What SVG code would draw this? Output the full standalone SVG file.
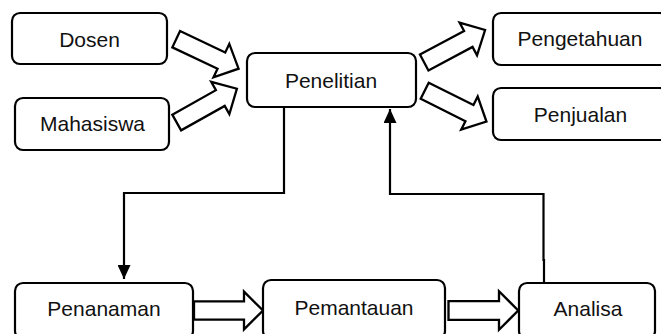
<svg xmlns="http://www.w3.org/2000/svg" xmlns:xlink="http://www.w3.org/1999/xlink" width="661" height="334" viewBox="0 0 661 334">
  <style>
    .box { fill: #ffffff; stroke: #000000; stroke-width: 2.2; }
    .lbl { font-family: "Liberation Sans", Arial, sans-serif; font-size: 21px; fill: #111111; text-anchor: middle; }
    .blk { fill: #ffffff; stroke: #000000; stroke-width: 2.3; stroke-linejoin: miter; }
    .line { fill: none; stroke: #000000; stroke-width: 2.2; }
  </style>
  <defs>
    <!-- hollow block arrow, tail at origin, tip at x=69 -->
    <path id="blockArrow" d="M0,-9 L50,-9 L50,-18.5 L69,0 L50,18.5 L50,9 L0,9 Z"/>
    <marker id="tri" viewBox="0 0 14 13" refX="14" refY="6.5" markerWidth="14" markerHeight="13" markerUnits="userSpaceOnUse" orient="auto">
      <path d="M0,0 L14,6.5 L0,13 Z" fill="#000000"/>
    </marker>
  </defs>

  <rect width="661" height="334" fill="#ffffff"/>

  <g id="connectors">
    <use xlink:href="#blockArrow" class="blk" transform="translate(176.2,39.2) rotate(25.3)"/>
    <use xlink:href="#blockArrow" class="blk" transform="translate(176.7,122.5) rotate(-29.3)"/>
    <use xlink:href="#blockArrow" class="blk" transform="translate(424.2,62.5) rotate(-28.1)"/>
    <use xlink:href="#blockArrow" class="blk" transform="translate(424.7,90.8) rotate(26.5)"/>
    <use xlink:href="#blockArrow" class="blk" transform="translate(194,310.5) scale(1,1.02)"/>
    <use xlink:href="#blockArrow" class="blk" transform="translate(448.5,310.5) scale(1.01,1.04)"/>
    <polyline class="line" points="284,107 284,193 124,193 124,279" marker-end="url(#tri)"/>
    <polyline class="line" points="544,283 544,260 543.5,260 543.5,194 390,194 390,109" marker-end="url(#tri)"/>
  </g>

  <g id="dosen">
    <rect class="box" x="12" y="13" width="155" height="51" rx="8"/>
    <text class="lbl" x="89.5" y="47">Dosen</text>
  </g>
  <g id="mahasiswa">
    <rect class="box" x="15" y="98" width="154" height="52" rx="8"/>
    <text class="lbl" x="92.5" y="131">Mahasiswa</text>
  </g>
  <g id="penelitian">
    <rect class="box" x="247" y="53" width="169" height="54" rx="8"/>
    <text class="lbl" x="331" y="87.5">Penelitian</text>
  </g>
  <g id="pengetahuan">
    <rect class="box" x="493" y="13" width="175" height="52" rx="8"/>
    <text class="lbl" x="580" y="46">Pengetahuan</text>
  </g>
  <g id="penjualan">
    <rect class="box" x="493" y="88" width="175" height="52" rx="8"/>
    <text class="lbl" x="580.5" y="122">Penjualan</text>
  </g>
  <g id="penanaman">
    <rect class="box" x="15" y="283" width="178" height="56" rx="8"/>
    <text class="lbl" x="104" y="316">Penanaman</text>
  </g>
  <g id="pemantauan">
    <rect class="box" x="263" y="280" width="182" height="59" rx="8"/>
    <text class="lbl" x="354" y="314.5">Pemantauan</text>
  </g>
  <g id="analisa">
    <rect class="box" x="519" y="283" width="136" height="56" rx="8"/>
    <text class="lbl" x="588" y="316">Analisa</text>
  </g>
</svg>
